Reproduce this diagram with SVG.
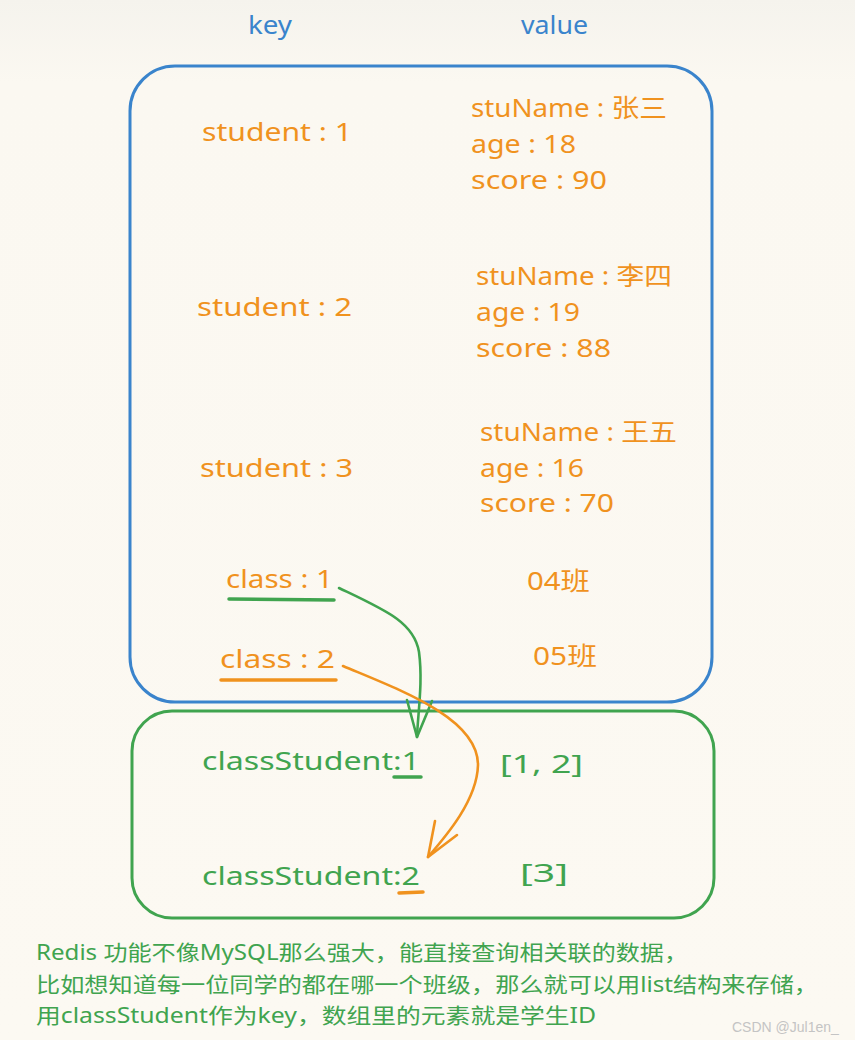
<svg xmlns="http://www.w3.org/2000/svg" width="855" height="1040" viewBox="0 0 855 1040">
<defs>
<linearGradient id="bg" x1="0" y1="0" x2="0" y2="1">
<stop offset="0" stop-color="#f5f3ed"/>
<stop offset="0.08" stop-color="#fbf8f1"/>
<stop offset="1" stop-color="#fcf9f2"/>
</linearGradient>
<style>
text{font-family:"Noto Sans","Noto Sans CJK SC",sans-serif;}
.o{fill:#f0921e;font-size:25px;}
.g{fill:#40a44f;font-size:25px;}
.b{fill:#3a84cc;font-size:26px;}
.note{fill:#40a44f;font-size:21px;}
.box{fill:none;stroke-width:3;}
.arr{fill:none;stroke-width:2.6;stroke-linecap:round;stroke-linejoin:round;}
.ul{stroke-width:3.5;stroke-linecap:round;}
</style>
</defs>
<rect width="855" height="1040" fill="url(#bg)"/>
<g id="header">
<text class="b" x="248" y="34" textLength="44" lengthAdjust="spacingAndGlyphs">key</text>
<text class="b" x="521" y="34" textLength="67" lengthAdjust="spacingAndGlyphs">value</text>
</g>
<g id="hash-box">
<rect class="box" x="130" y="66" width="582" height="636" rx="45" stroke="#3a84cc"/>
</g>
<g id="student1">
<text class="o" x="202" y="141" textLength="150" lengthAdjust="spacingAndGlyphs">student : 1</text>
<text class="o" x="471" y="117" textLength="196" lengthAdjust="spacingAndGlyphs">stuName : 张三</text>
<text class="o" x="471" y="153" textLength="105" lengthAdjust="spacingAndGlyphs">age : 18</text>
<text class="o" x="471" y="189" textLength="136" lengthAdjust="spacingAndGlyphs">score : 90</text>
</g>
<g id="student2">
<text class="o" x="197" y="316" textLength="155" lengthAdjust="spacingAndGlyphs">student : 2</text>
<text class="o" x="476" y="285" textLength="196" lengthAdjust="spacingAndGlyphs">stuName : 李四</text>
<text class="o" x="476" y="321" textLength="104" lengthAdjust="spacingAndGlyphs">age : 19</text>
<text class="o" x="476" y="357" textLength="135" lengthAdjust="spacingAndGlyphs">score : 88</text>
</g>
<g id="student3">
<text class="o" x="200" y="477" textLength="153" lengthAdjust="spacingAndGlyphs">student : 3</text>
<text class="o" x="480" y="441" textLength="197" lengthAdjust="spacingAndGlyphs">stuName : 王五</text>
<text class="o" x="480" y="477" textLength="104" lengthAdjust="spacingAndGlyphs">age : 16</text>
<text class="o" x="480" y="512" textLength="134" lengthAdjust="spacingAndGlyphs">score : 70</text>
</g>
<g id="class1">
<text class="o" x="226" y="588" textLength="107" lengthAdjust="spacingAndGlyphs">class : 1</text>
<line class="ul" x1="229" y1="599" x2="334" y2="600" stroke="#40a44f"/>
<text class="o" x="527" y="590" textLength="63" lengthAdjust="spacingAndGlyphs">04班</text>
</g>
<g id="class2">
<text class="o" x="220" y="668" textLength="115" lengthAdjust="spacingAndGlyphs">class : 2</text>
<line class="ul" x1="221" y1="680" x2="336" y2="680" stroke="#f0921e"/>
<text class="o" x="533" y="665" textLength="64" lengthAdjust="spacingAndGlyphs">05班</text>
</g>
<g id="list-box">
<rect class="box" x="132" y="711" width="582" height="207" rx="40" stroke="#40a44f"/>
</g>
<g id="classStudent1">
<text class="g" x="202" y="770" textLength="218" lengthAdjust="spacingAndGlyphs">classStudent:1</text>
<line class="ul" x1="394" y1="777" x2="421" y2="777" stroke="#40a44f"/>
<text class="g" x="500" y="773" textLength="83" lengthAdjust="spacingAndGlyphs">[1, 2]</text>
</g>
<g id="classStudent2">
<text class="g" x="202" y="885" textLength="218" lengthAdjust="spacingAndGlyphs">classStudent:2</text>
<line class="ul" x1="399" y1="893" x2="423" y2="892" stroke="#f0921e"/>
<text class="g" x="520" y="882" textLength="48" lengthAdjust="spacingAndGlyphs">[3]</text>
</g>
<g id="connectors">
<path class="arr" stroke="#40a44f" d="M339,588 C385,610 414,622 419,652 C423,682 418,712 417,737"/>
<path class="arr" stroke="#40a44f" d="M407,700 L417,737 L432,701"/>
<path class="arr" stroke="#f0921e" d="M343,666 C400,690 478,718 478,765 C477,800 447,835 428,857"/>
<path class="arr" stroke="#f0921e" d="M435,821 L428,857 L457,835"/>
</g>
<g id="note">
<text class="note" x="36" y="960" textLength="652" lengthAdjust="spacingAndGlyphs">Redis 功能不像MySQL那么强大，能直接查询相关联的数据，</text>
<text class="note" x="36" y="992" textLength="782" lengthAdjust="spacingAndGlyphs">比如想知道每一位同学的都在哪一个班级，那么就可以用list结构来存储，</text>
<text class="note" x="36" y="1023" textLength="560" lengthAdjust="spacingAndGlyphs">用classStudent作为key，数组里的元素就是学生ID</text>
</g>
<text x="732" y="1032" fill="#c4c4c4" font-size="14" style="font-family:'Liberation Sans',sans-serif">CSDN @Jul1en_</text>
</svg>
